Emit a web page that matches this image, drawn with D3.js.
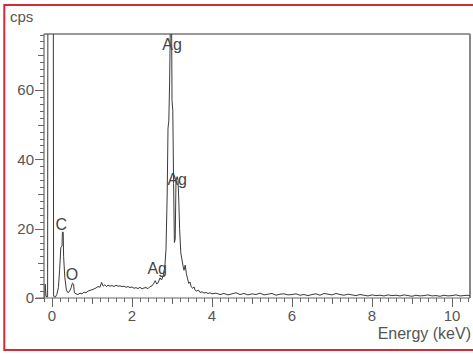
<!DOCTYPE html>
<html>
<head>
<meta charset="utf-8">
<script src="https://cdn.jsdelivr.net/npm/d3@7"></script>
<style>
  body { margin: 0; background: #fff; }
  text { font-family: "Liberation Sans", Arial, sans-serif; fill: #555; }
</style>
</head>
<body>
<div id="chart"></div>
<script>
// EDS spectrum, energy in keV vs counts per second
const energyKeV = [
  -0.20, -0.18, -0.17, -0.15, -0.11, -0.10, 0.03, 0.04, 0.08, 0.12, 0.16, 0.19, 0.22, 0.25, 0.26, 0.28, 0.29,
  0.32, 0.36, 0.40, 0.44, 0.48, 0.51, 0.54, 0.56, 0.60, 0.65, 0.70, 0.75, 0.80, 0.85, 0.90, 0.95,
  1.00, 1.05, 1.10, 1.15, 1.20, 1.24, 1.28, 1.32, 1.36, 1.40, 1.45, 1.50, 1.55, 1.60, 1.65, 1.70,
  1.75, 1.80, 1.85, 1.90, 1.95, 2.00, 2.05, 2.10, 2.15, 2.20, 2.25, 2.30, 2.35, 2.40, 2.45, 2.50,
  2.55, 2.58, 2.62, 2.66, 2.70, 2.74, 2.78, 2.82, 2.85, 2.88, 2.90, 2.92, 2.94, 2.96, 2.99, 3.00,
  3.02, 3.04, 3.06, 3.08, 3.10, 3.13, 3.15, 3.17, 3.19, 3.22, 3.25, 3.28, 3.30, 3.33, 3.36, 3.39,
  3.42, 3.45, 3.48, 3.52, 3.55, 3.58, 3.62, 3.66, 3.70, 3.75, 3.80, 3.85, 3.90, 3.95, 4.00,
  4.1, 4.2, 4.3, 4.4, 4.5, 4.6, 4.7, 4.8, 4.9, 5.0, 5.1, 5.2, 5.3, 5.4, 5.5, 5.6, 5.7, 5.8, 5.9, 6.0,
  6.1, 6.2, 6.3, 6.4, 6.5, 6.6, 6.7, 6.8, 6.9, 7.0, 7.1, 7.2, 7.3, 7.4, 7.5, 7.6, 7.7, 7.8, 7.9, 8.0,
  8.1, 8.2, 8.3, 8.4, 8.5, 8.6, 8.7, 8.8, 8.9, 9.0, 9.1, 9.2, 9.3, 9.4, 9.5, 9.6, 9.7, 9.8, 9.9, 10.0,
  10.1, 10.2, 10.3, 10.4, 10.45
];
const cps = [
  0, 0.5, 4, 0.5, 0.3, 120, 120, 0.5, 0.2, 1, 3, 8, 14.5, 15, 19, 19, 12,
  6, 2.3, 1.5, 2, 3, 4.3, 4, 1.5, 1.2, 1.0, 1.4, 1.2, 1.7, 1.5, 2.0, 2.2,
  2.4, 2.6, 2.9, 3.3, 3.1, 4.5, 3.4, 3.8, 3.3, 3.7, 3.4, 3.6, 3.3, 3.7, 3.4, 3.5,
  3.3, 3.4, 3.1, 3.3, 3.0, 3.2, 2.8, 3.0, 2.7, 3.1, 2.6, 2.9, 3.0, 2.7, 3.3, 3.5,
  4.3, 5.0, 4.0, 4.6, 5.8, 5.2, 6.5, 9, 14, 30, 49, 51, 62, 80, 80, 57,
  54, 33, 16, 17, 34, 35, 34, 28, 20, 13, 11, 9, 8, 9.5, 7, 5.5,
  4.2, 4.6, 3.2, 2.8, 3.2, 2.2, 2.0, 2.3, 1.6, 1.8, 1.4, 1.6, 1.3, 1.5, 1.2,
  1.4, 1.0, 1.3, 0.9, 1.2, 1.5, 1.0, 1.3, 0.9, 1.2, 1.0, 1.4, 0.9, 1.1, 1.3, 0.8, 1.1, 1.2, 0.9, 1.0,
  1.2, 0.8, 1.0, 0.7, 1.0, 1.2, 0.8, 1.3, 1.1, 0.9, 1.3, 1.0, 0.8, 1.1, 0.9, 0.7, 1.0, 0.8, 0.6, 0.9,
  0.7, 0.8, 0.6, 0.9, 0.7, 0.8, 0.6, 0.9, 0.7, 0.5, 0.8, 0.6, 0.7, 0.9, 0.6, 0.7, 0.5, 0.8, 0.6, 0.7,
  0.9, 0.6, 0.7, 0.8, 0.6
];

// peak labels: text, energy and cps of the label baseline
const peakNames = ['C', 'O', 'Ag', 'Ag', 'Ag'];
const peakEnergy = [0.23, 0.50, 2.63, 3.00, 3.13];
const peakCps = [19.6, 5.2, 6.9, 71.5, 32.6];

const xTickLabels = [0, 2, 4, 6, 8, 10];
const yTickLabels = [0, 20, 40, 60];

const width = 473;
const height = 354;
const plotLeft = 44, plotRight = 470, plotTop = 34, plotBottom = 298;

const svg = d3.select('#chart')
  .append('svg')
  .attr('width', width)
  .attr('height', height);

const x = d3.scaleLinear().domain([-0.2, 10.45]).range([plotLeft, plotRight]);
const y = d3.scaleLinear().domain([0, 76.15]).range([plotBottom, plotTop]);

// red outer frame
svg.append('rect')
  .attr('x', 4.3).attr('y', 5)
  .attr('width', 480).attr('height', 345)
  .attr('fill', 'none')
  .attr('stroke', '#d42a35')
  .attr('stroke-width', 2);

// plot frame (top and right)
svg.append('line')
  .attr('x1', plotLeft).attr('x2', plotRight).attr('y1', plotTop).attr('y2', plotTop)
  .attr('stroke', '#777').attr('stroke-width', 1.5);
svg.append('line')
  .attr('x1', plotRight).attr('x2', plotRight).attr('y1', plotTop).attr('y2', plotBottom)
  .attr('stroke', '#888').attr('stroke-width', 2);

// spectrum
svg.append('clipPath').attr('id', 'plot-clip')
  .append('rect')
  .attr('x', plotLeft).attr('y', plotTop)
  .attr('width', plotRight - plotLeft).attr('height', plotBottom - plotTop);

const spectrum = energyKeV.map((e, i) => [e, cps[i]]);
const line = d3.line()
  .x(d => x(d[0]))
  .y(d => y(d[1]));

svg.append('path')
  .datum(spectrum)
  .attr('clip-path', 'url(#plot-clip)')
  .attr('fill', 'none')
  .attr('stroke', '#3a3a3a')
  .attr('stroke-width', 1)
  .attr('d', line);

// y axis with minor ticks every 2 cps
const yTicks = d3.range(0, 76.1, 2);
const yAxis = svg.append('g').attr('class', 'y-axis');
yAxis.append('line')
  .attr('x1', plotLeft).attr('x2', plotLeft).attr('y1', plotTop).attr('y2', plotBottom)
  .attr('stroke', '#666').attr('stroke-width', 1.2);
yAxis.selectAll('.ytick')
  .data(yTicks)
  .enter()
  .append('line')
  .attr('x1', d => plotLeft - (d % 20 === 0 ? 9 : d % 10 === 0 ? 6 : 4))
  .attr('x2', plotLeft)
  .attr('y1', d => Math.round(y(d)) + 0.5)
  .attr('y2', d => Math.round(y(d)) + 0.5)
  .attr('stroke', '#666')
  .attr('stroke-width', 1);
yAxis.selectAll('.ylabel')
  .data(yTickLabels)
  .enter()
  .append('text')
  .attr('x', plotLeft - 10)
  .attr('y', d => y(d))
  .attr('dy', '0.36em')
  .attr('text-anchor', 'end')
  .style('font-size', '15px')
  .text(d => d);

// x axis with minor ticks every 0.2 keV
const xTicks = d3.range(-0.2, 10.41, 0.2).map(d => Math.round(d * 10) / 10);
const xAxis = svg.append('g').attr('class', 'x-axis');
xAxis.append('line')
  .attr('x1', plotLeft - 8).attr('x2', plotRight).attr('y1', plotBottom).attr('y2', plotBottom)
  .attr('stroke', '#666').attr('stroke-width', 1.2);
xAxis.selectAll('.xtick')
  .data(xTicks)
  .enter()
  .append('line')
  .attr('x1', d => Math.round(x(d)) + 0.5)
  .attr('x2', d => Math.round(x(d)) + 0.5)
  .attr('y1', plotBottom)
  .attr('y2', d => plotBottom + (Math.abs(d % 2) < 1e-6 ? 9 : Math.abs(d % 1) < 1e-6 ? 6 : 4))
  .attr('stroke', '#666')
  .attr('stroke-width', 1);
xAxis.selectAll('.xlabel')
  .data(xTickLabels)
  .enter()
  .append('text')
  .attr('x', d => x(d))
  .attr('y', plotBottom + 23)
  .attr('text-anchor', 'middle')
  .style('font-size', '15px')
  .text(d => d);

// axis titles
svg.append('text')
  .attr('x', 10)
  .attr('y', 22)
  .style('font-size', '15px')
  .text('cps');
svg.append('text')
  .attr('x', 471)
  .attr('y', 339)
  .attr('text-anchor', 'end')
  .style('font-size', '16px')
  .text('Energy (keV)');

// peak labels
svg.selectAll('.peak')
  .data(peakNames)
  .enter()
  .append('text')
  .attr('x', (d, i) => x(peakEnergy[i]))
  .attr('y', (d, i) => y(peakCps[i]))
  .attr('text-anchor', 'middle')
  .style('font-size', '16px')
  .style('fill', '#444')
  .text(d => d);
</script>
</body>
</html>
